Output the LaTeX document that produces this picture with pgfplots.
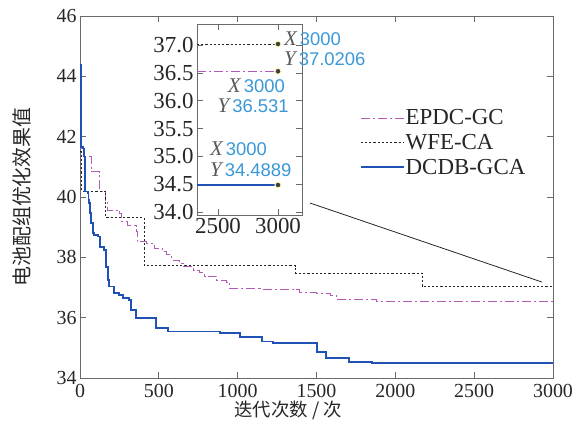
\documentclass[border=0pt]{standalone}
\usepackage{pgfplots}
\pgfplotsset{compat=1.18}
\usepackage{fontspec}
\setmainfont{Liberation Serif}
\newfontfamily\cjk{Noto Sans CJK SC}
\newfontfamily\tipsans{Liberation Sans}
\definecolor{epdc}{HTML}{B45AB9}
\definecolor{dcdb}{HTML}{1F52B4}
\definecolor{framec}{HTML}{6A6A6A}
\definecolor{tipblue}{HTML}{3A98D8}
\definecolor{tipgray}{HTML}{5A5A5A}
\definecolor{txt}{HTML}{262626}
\newcommand\tipL[2]{{\fontsize{21}{21}\selectfont\itshape\color{tipgray}#1}\kern3bp{\tipsans\fontsize{18.5}{19}\selectfont\color{tipblue}#2}}

\pgfplotstableread{
x y
0 44.38
4 41.67
17 41.61
27 41.34
34 40.18
49 40.12
54 39.90
59 39.79
62 39.46
70 39.13
80 38.80
91 38.74
112 38.69
127 38.35
154 38.24
165 37.69
179 37.25
186 37.03
218 36.81
249 36.75
271 36.64
313 36.59
323 36.26
355 35.98
482 35.65
556 35.54
888 35.50
1015 35.37
1152 35.21
1226 35.17
1332 35.15
1501 34.85
1560 34.65
1705 34.54
1850 34.4889
3000 34.4889
}\dcdb

\pgfplotstableread{
x y
0 41.60
25 41.34
70 40.84
125 40.20
160 39.90
172 39.57
250 39.45
262 39.18
300 39.05
355 38.85
362 38.52
420 38.47
470 38.30
525 38.20
550 38.08
580 37.91
630 37.80
655 37.69
720 37.58
760 37.50
790 37.38
867 37.25
930 37.16
951 36.97
1142 36.95
1374 36.92
1395 36.84
1500 36.79
1586 36.72
1628 36.59
1882 36.531
3000 36.531
}\epdc

\pgfplotstableread{
x y
0 41.50
8 40.20
163 39.31
406 37.72
1368 37.48
2169 37.0206
3000 37.0206
}\wfe

\begin{document}
\begin{tikzpicture}
\useasboundingbox (-80bp,-60bp) rectangle (494bp,378bp);
\begin{axis}[
  at={(0,0)}, anchor=south west,
  scale only axis, width=473bp, height=362bp,
  xmin=0, xmax=3000, ymin=34, ymax=46,
  xtick={0,500,...,3000}, ytick={34,36,...,46},
  tick align=inside, major tick length=6bp,
  axis line style={framec, line width=0.8bp},
  every tick/.style={framec, line width=0.8bp},
  tick label style={font=\fontsize{20}{22}\selectfont\rmfamily, text=txt},
  xticklabel={\pgfmathprintnumber[assume math mode=true, set thousands separator={}]{\tick}},
  yticklabel={\pgfmathprintnumber[assume math mode=true]{\tick}},
  xticklabel style={yshift=-3bp},
  scaled ticks=false,
  xlabel={\cjk 迭代次数 / 次},
  ylabel={\cjk 电池配组优化效果值},
  label style={text=txt},
  xlabel style={font=\fontsize{18.5}{20}\selectfont, at={(axis description cs:0.44,-0.09)}, anchor=center},
  ylabel style={font=\fontsize{20}{22}\selectfont, at={(axis description cs:-0.123,0.5)}, anchor=center},
  legend style={at={(0.585,0.75)}, anchor=north west, draw=none, fill=none,
    font=\fontsize{23}{24}\selectfont, text=txt, row sep=6bp,
    nodes={inner sep=1bp}},
  legend cell align=left,
  legend image code/.code={\draw[#1] (0bp,0bp) -- (43bp,0bp);},
]
\addplot[const plot mark left, epdc, line width=0.9bp, dash pattern=on 9bp off 3bp on 2bp off 3bp] table {\epdc};
\addlegendentry{EPDC-GC}
\addplot[const plot mark left, black!85, line width=0.9bp, dash pattern=on 2.2bp off 2bp] table {\wfe};
\addlegendentry{WFE-CA}
\addplot[const plot mark left, dcdb, line width=1.8bp] table {\dcdb};
\addlegendentry{DCDB-GCA}
\addplot[black!85, line width=0.8bp, forget plot] coordinates {(1459,39.8) (2930,37.18)};
\end{axis}

\begin{axis}[
  at={(117bp,163bp)}, anchor=south west,
  scale only axis, width=105bp, height=191bp,
  xmin=2325, xmax=3200, ymin=33.95, ymax=37.38,
  xtick={2500,3000}, ytick={34,34.5,...,37},
  axis background/.style={fill=white},
  clip=false,
  tick align=inside, major tick length=6bp,
  axis line style={framec, line width=0.8bp},
  every tick/.style={framec, line width=0.8bp},
  tick label style={font=\fontsize{23}{24}\selectfont\rmfamily, text=txt},
  xticklabel={\pgfmathprintnumber[assume math mode=true, set thousands separator={}]{\tick}},
  yticklabel={\pgfmathprintnumber[assume math mode=true, fixed, fixed zerofill, precision=1]{\tick}},
  scaled ticks=false,
]
\addplot[black!85, line width=0.9bp, dash pattern=on 2.2bp off 2bp] coordinates {(2325,37.0206) (3000,37.0206)};
\addplot[epdc, line width=0.9bp, dash pattern=on 9bp off 3bp on 2bp off 3bp] coordinates {(2325,36.531) (3000,36.531)};
\addplot[dcdb, line width=1.8bp] coordinates {(2325,34.4889) (3000,34.4889)};
\addplot[only marks, mark=*, mark size=3bp, mark options={fill=black!75, draw=yellow!25, line width=1bp}] coordinates {(3000,37.0206) (3000,36.531) (3000,34.4889)};
\node[anchor=west, inner sep=0pt] at (axis cs:3050,37.12) {\tipL{X}{3000}};
\node[anchor=west, inner sep=0pt] at (axis cs:3050,36.76) {\tipL{Y}{37.0206}};
\node[anchor=east, inner sep=0pt] at (axis cs:3058,36.27) {\tipL{X}{3000}};
\node[anchor=east, inner sep=0pt] at (axis cs:3091,35.91) {\tipL{Y}{36.531}};
\node[anchor=west, inner sep=0pt] at (axis cs:2433,35.14) {\tipL{X}{3000}};
\node[anchor=west, inner sep=0pt] at (axis cs:2433,34.77) {\tipL{Y}{34.4889}};
\end{axis}
\end{tikzpicture}
\end{document}
